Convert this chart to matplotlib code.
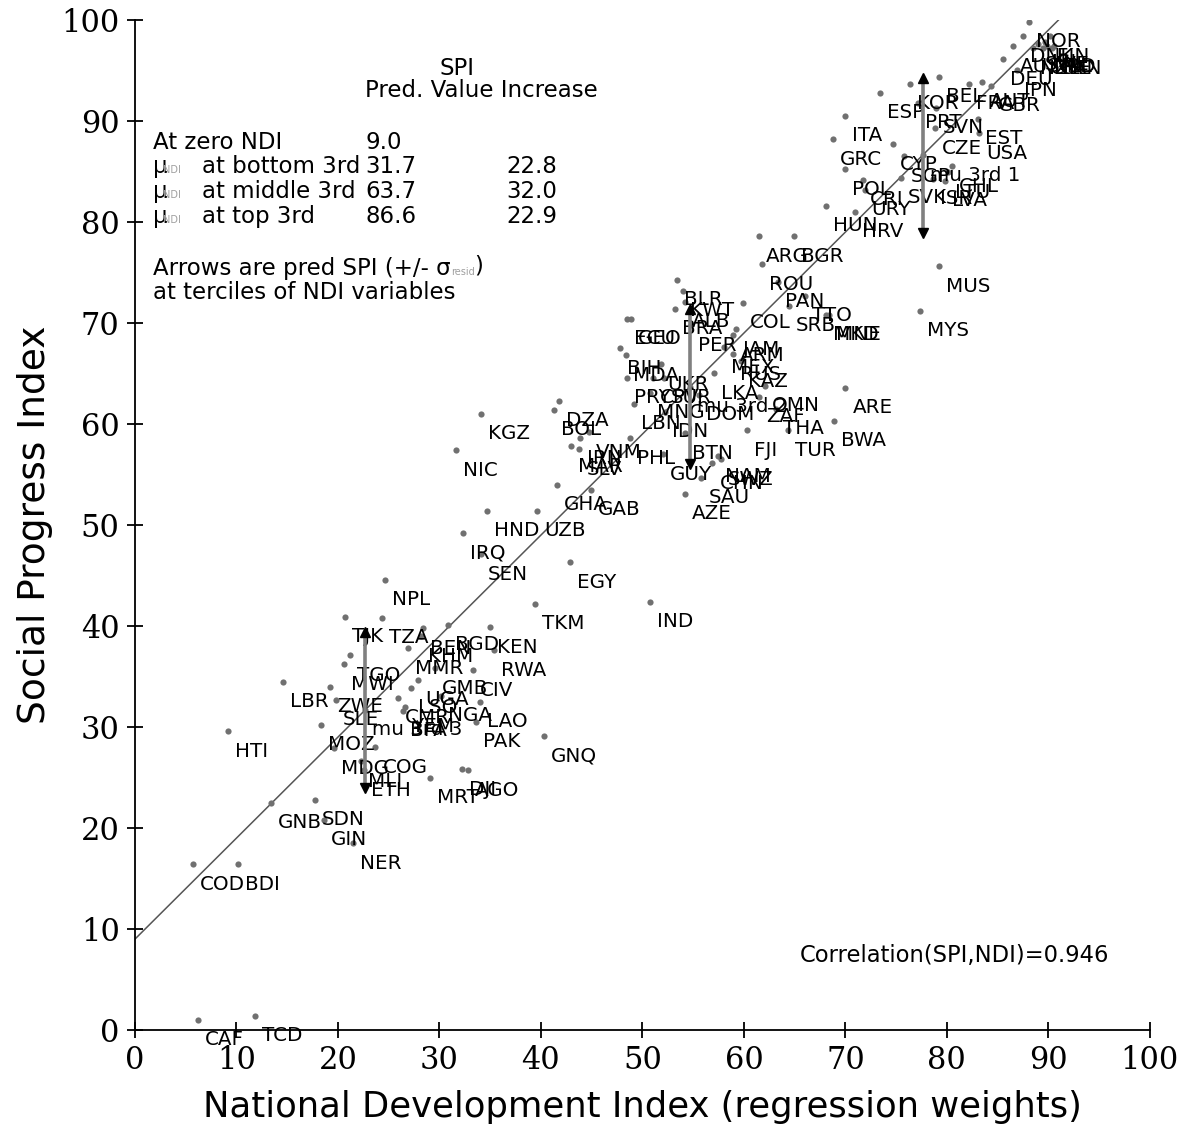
import matplotlib
matplotlib.use("Agg")
import matplotlib.pyplot as plt

# country codes with (NDI, SPI) values
codes = ["CAF", "TCD", "COD", "BDI", "NER", "GIN", "SDN", "GNB", "HTI", "LBR",
         "MOZ", "MDG", "COG", "MLI", "ETH", "MRT", "DJI", "AGO", "GNQ", "PAK",
         "LAO", "NGA", "CIV", "GMB", "LSO", "UGA", "CMR", "BFA", "YEM", "ZWE",
         "SLE", "TGO", "MWI", "TJK", "TZA", "NPL", "MMR", "KEN", "BGD", "BEN",
         "KHM", "RWA", "TKM", "IND", "EGY", "SEN", "IRQ", "HND", "UZB", "GHA",
         "GAB", "NIC", "KGZ", "DZA", "BOL", "VNM", "IRN", "MAR", "SLV", "PHL",
         "GUY", "BTN", "NAM", "CHN", "SWZ", "SAU", "AZE", "FJI", "TUR", "THA",
         "ZAF", "OMN", "LKA", "DOM", "MNG", "PRY", "SUR", "CPV", "LBN", "IDN",
         "UKR", "BIH", "MDA", "ECU", "GEO", "BLR", "KWT", "ALB", "BRA", "PER",
         "COL", "JAM", "ARM", "MEX", "RUS", "KAZ", "ARG", "BGR", "ROU", "PAN",
         "TTO", "SRB", "MKD", "MNE", "ARE", "BWA", "MUS", "MYS", "HRV", "HUN",
         "URY", "CRI", "POL", "GRC", "ITA", "ESP", "KOR", "BEL", "PRT", "SVN",
         "FRA", "AUT", "GBR", "EST", "CZE", "USA", "CYP", "SGP", "SVK", "ISR",
         "LVA", "CHL", "LTU", "NOR", "DNK", "FIN", "DEU", "JPN", "AUS", "NZL",
         "SWE", "CHE", "NLD", "CAN", "IRL", "ISL"]

ndi = [6.2, 11.8, 5.7, 10.2, 21.5, 18.6, 17.7, 13.4, 9.2, 14.6,
       18.3, 19.6, 23.7, 22.3, 22.6, 29.1, 32.2, 32.8, 40.3, 33.6,
       34.0, 30.2, 33.3, 29.6, 27.2, 27.9, 25.9, 26.4, 26.6, 19.2,
       19.8, 21.2, 20.6, 20.7, 24.3, 24.6, 26.9, 35.0, 30.8, 28.4,
       28.2, 35.4, 39.4, 50.7, 42.9, 34.1, 32.3, 34.7, 39.6, 41.6,
       44.9, 31.6, 34.1, 41.8, 41.3, 44.7, 43.9, 43.0, 43.8, 48.8,
       52.0, 54.2, 57.4, 56.9, 57.7, 55.8, 54.2, 60.3, 64.3, 63.2,
       61.5, 62.1, 57.1, 55.6, 50.7, 48.5, 52.1, 51.0, 49.2, 52.2,
       51.8, 47.8, 48.4, 48.5, 48.9, 53.4, 54.0, 54.2, 53.2, 54.8,
       59.9, 59.2, 58.9, 58.0, 58.9, 59.7, 61.5, 64.9, 61.8, 63.4,
       66.0, 64.4, 68.1, 68.4, 70.0, 68.9, 79.2, 77.4, 70.9, 68.1,
       71.9, 71.7, 70.0, 68.8, 70.0, 73.4, 76.4, 79.2, 77.2, 78.9,
       82.2, 83.5, 84.3, 83.1, 78.8, 83.2, 74.7, 75.8, 75.5, 78.6,
       79.8, 80.5, 80.1, 88.1, 87.5, 90.2, 85.5, 86.9, 86.5, 88.5,
       89.0, 89.5, 89.9, 90.4, 90.6, 89.7]

spi = [1.0, 1.4, 16.4, 16.4, 18.5, 20.8, 22.8, 22.5, 29.6, 34.5,
       30.2, 27.9, 28.0, 26.6, 25.7, 25.0, 25.8, 25.7, 29.1, 30.5,
       32.5, 33.1, 35.6, 35.8, 33.9, 34.7, 32.9, 31.6, 32.0, 34.0,
       32.7, 37.1, 36.2, 40.9, 40.8, 44.6, 37.8, 39.9, 40.1, 39.8,
       39.0, 37.6, 42.2, 42.4, 46.3, 47.1, 49.2, 51.4, 51.4, 54.0,
       53.5, 57.4, 61.0, 62.3, 61.4, 59.2, 58.6, 57.8, 57.5, 58.6,
       57.0, 59.1, 56.8, 56.1, 56.5, 54.7, 53.1, 59.4, 59.4, 61.5,
       62.7, 63.8, 65.0, 62.9, 63.1, 64.6, 64.6, 64.6, 62.0, 61.2,
       65.9, 67.5, 66.8, 70.4, 70.4, 74.3, 73.2, 72.1, 71.4, 69.8,
       72.0, 69.4, 68.8, 67.6, 66.9, 66.2, 78.6, 78.6, 75.8, 74.1,
       72.7, 71.7, 70.8, 70.8, 63.6, 60.3, 75.6, 71.2, 81.0, 81.6,
       83.2, 84.2, 85.2, 88.2, 90.5, 92.8, 93.7, 94.4, 91.8, 91.3,
       93.7, 93.9, 93.5, 90.2, 89.3, 88.8, 87.7, 86.5, 84.4, 84.3,
       84.1, 85.5, 84.9, 99.8, 98.4, 98.4, 96.1, 95.0, 97.4, 97.2,
       97.6, 97.2, 97.4, 97.2, 97.4, 97.8]

# regression and tercile summaries
intercept = 9.0
slope = 1.0
line_x = [0, 91]
tercile_names = ["mu 3rd 1", "mu 3rd 2", "mu 3rd 3"]
tercile_ndi = [77.6, 54.7, 22.7]
tercile_spi = [86.6, 63.7, 31.7]
sigma_resid = 7.7
correlation = 0.946

table_rows = ["at bottom 3rd", "at middle 3rd", "at top 3rd"]
table_pred = ["31.7", "63.7", "86.6"]
table_incr = ["22.8", "32.0", "22.9"]

fig = plt.figure(figsize=(11.87, 11.35), dpi=100)
ax = fig.add_axes([0.1137, 0.0925, 0.855, 0.8899])

dot_color = "#707070"
lab_kw = dict(textcoords="offset pixels", xytext=(7, -20), ha="left",
              va="center", fontsize=14.3, color="black", family="DejaVu Sans")

ax.scatter(ndi, spi, s=20, color=dot_color, zorder=2, linewidths=0)
for c, x, y in zip(codes, ndi, spi):
    ax.annotate(c, (x, y), **lab_kw)

ax.scatter(tercile_ndi, tercile_spi, s=20, color=dot_color, zorder=2, linewidths=0)
for c, x, y in zip(tercile_names, tercile_ndi, tercile_spi):
    ax.annotate(c, (x, y), **lab_kw)

# fitted line
ax.plot(line_x, [intercept + slope * v for v in line_x], color="#555555",
        lw=1.1, zorder=1)

# predicted SPI +/- sigma arrows at the tercile means
for x in tercile_ndi:
    pred = intercept + slope * x
    lo, hi = pred - sigma_resid, pred + sigma_resid
    ax.plot([x, x], [lo, hi], color="#808080", lw=2.6, zorder=3,
            solid_capstyle="butt")
    ax.plot([x], [hi], marker="^", color="black", markersize=7, zorder=4)
    ax.plot([x], [lo], marker="v", color="black", markersize=7, zorder=4)

# summary table
fs = 16.5
tk = dict(fontsize=fs, family="DejaVu Sans", va="center", ha="left")
ax.text(31.7, 95.2, "SPI", ha="center", va="center", fontsize=fs,
        family="DejaVu Sans")
ax.text(22.7, 93.0, "Pred. Value Increase", **tk)
ax.text(1.8, 87.9, "At zero NDI", **tk)
ax.text(22.7, 87.9, "9.0", **tk)
row_y = [85.5, 83.0, 80.5]
for y, name, p, inc in zip(row_y, table_rows, table_pred, table_incr):
    ax.text(1.8, y, "μ", **tk)
    ax.text(2.75, y - 0.35, "NDI", fontsize=7, color="#a0a0a0",
            family="DejaVu Sans", va="center", ha="left")
    ax.text(6.6, y, name, **tk)
    ax.text(22.7, y, p, **tk)
    ax.text(36.6, y, inc, **tk)

t1 = ax.text(1.8, 75.4, "Arrows are pred SPI (+/- σ", **tk)
t2 = ax.annotate("resid", xy=(1.0, 0.12), xycoords=t1, fontsize=7,
                 color="#a0a0a0", family="DejaVu Sans", va="bottom", ha="left")
ax.annotate(")", xy=(1.0, 0.0), xycoords=t2, fontsize=fs,
            family="DejaVu Sans", va="bottom", ha="left")
ax.text(1.8, 73.0, "at terciles of NDI variables", **tk)

ax.text(65.5, 7.4, "Correlation(SPI,NDI)={:.3f}".format(correlation),
        fontsize=16.3, family="DejaVu Sans", va="center", ha="left")

ax.set_xlim(0, 100)
ax.set_ylim(0, 100)
ax.set_xticks(range(0, 101, 10))
ax.set_yticks(range(0, 101, 10))
for s in ["top", "right"]:
    ax.spines[s].set_visible(False)
for s in ["left", "bottom"]:
    ax.spines[s].set_linewidth(1.3)
ax.tick_params(direction="inout", length=12, width=1.3, labelsize=22, pad=5)
for lab in ax.get_xticklabels() + ax.get_yticklabels():
    lab.set_family("DejaVu Serif")

ax.set_xlabel("National Development Index (regression weights)", fontsize=25.5,
              family="DejaVu Sans", labelpad=10)
ax.set_ylabel("Social Progress Index", fontsize=27, family="DejaVu Sans",
              labelpad=6)

fig.savefig("out.png", dpi=100)
